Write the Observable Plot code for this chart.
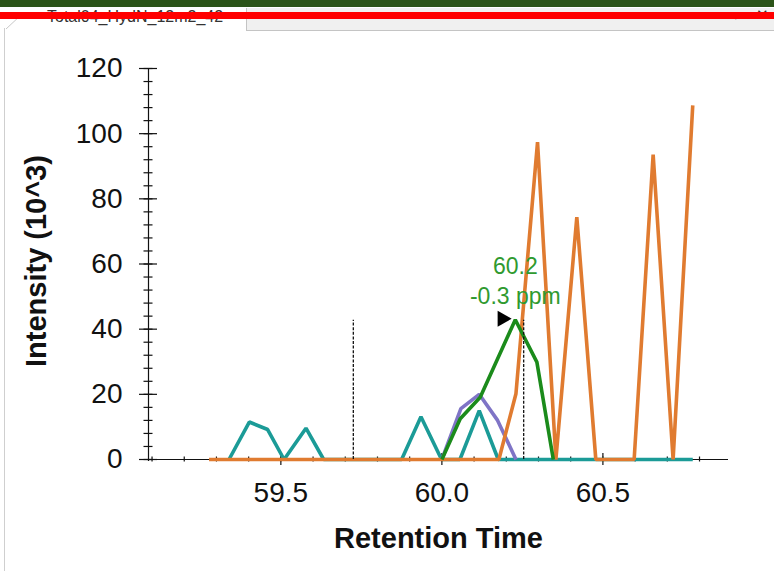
<!DOCTYPE html>
<html>
<head>
<meta charset="utf-8">
<script src="https://cdn.jsdelivr.net/npm/d3@7"></script>
<script src="https://cdn.jsdelivr.net/npm/@observablehq/plot@0.6"></script>
<style>
  html, body { margin: 0; padding: 0; background: #fff; }
  #page { position: relative; width: 774px; height: 571px; overflow: hidden; background: #fff; font-family: "Liberation Sans", Arial, sans-serif; }
  #hdr { position: relative; width: 774px; height: 32px; overflow: hidden; background: #fff; }
  .abs { position: absolute; }
</style>
</head>
<body>
<div id="page">
  <div id="hdr">
    <div class="abs" style="left:246px;top:8px;width:528px;height:22px;background:#f0f0f0;border-left:1px solid #c4c4c4;border-bottom:1px solid #c4c4c4;"></div>
    <div class="abs" style="left:47px;top:7px;font-size:16px;line-height:20px;color:#333;white-space:nowrap;">Total04_HydN_12m2_42</div>
    <div class="abs" style="left:690px;top:5px;font-size:15px;line-height:20px;color:#333;white-space:nowrap;letter-spacing:6px;">‹ › ▾ ✕</div>
    <svg class="abs" style="left:0;top:0" width="40" height="32"><line x1="6" y1="29" x2="21" y2="15" stroke="#c8c8c8" stroke-width="1"/></svg>
    <div class="abs" style="left:0;top:0;width:774px;height:7px;background:#2b5418;"></div>
    <div class="abs" style="left:0;top:12px;width:774px;height:7px;background:#ff0000;"></div>
  </div>
  <div id="chart"></div>
  <div class="abs" style="left:4px;top:28px;width:1px;height:543px;background:#cfcfcf;"></div>
</div>
<script>
// ---- data ----
const tealTime      = [59.339, 59.402, 59.459, 59.510, 59.578, 59.633, 59.875, 59.935, 59.999, 60.056, 60.116, 60.175, 60.779];
const tealIntensity = [0, 11.5, 9.2, 0, 9.6, 0, 0, 13.1, 0, 0, 15.0, 0, 0];

const purpleTime      = [60.000, 60.059, 60.116, 60.173, 60.230];
const purpleIntensity = [0, 15.6, 20.0, 12.0, 0];

const greenTime      = [60.000, 60.057, 60.119, 60.228, 60.295, 60.346];
const greenIntensity = [0, 12.5, 19.1, 42.9, 29.9, 0];

const orangeTime      = [59.277, 60.177, 60.230, 60.297, 60.354, 60.419, 60.478, 60.597, 60.656, 60.718, 60.779];
const orangeIntensity = [0, 0, 20.2, 97.4, 0, 74.4, 0, 0, 93.6, 0, 108.7];

const boundaryTime = [59.725, 60.254];
const boundaryTop  = [42.7, 42.7];

const apexTime = [60.228];
const apexIntensity = [42.9];
const apexLabel = ["60.2", "-0.3 ppm"];

const xMajorTicks = [59.5, 60.0, 60.5];
const xMinorTicks = [59.1, 59.2, 59.3, 59.4, 59.5, 59.6, 59.7, 59.8, 59.9, 60.0, 60.1, 60.2, 60.3, 60.4, 60.5, 60.6, 60.7, 60.8];
const yMajorTicks = [0, 20, 40, 60, 80, 100, 120];
const yMinorTicks = [0, 4, 8, 12, 16, 20, 24, 28, 32, 36, 40, 44, 48, 52, 56, 60, 64, 68, 72, 76, 80, 84, 88, 92, 96, 100, 104, 108, 112, 116, 120];

const xDomain = [59.089, 60.89];
const yDomain = [0, 120];
const xTitle = "Retention Time";
const yTitle = "Intensity (10^3)";

const colors = { teal: "#1b9b97", purple: "#7f74c6", green: "#1b8b1b", orange: "#e07b30", label: "#2f9a2f" };

// ---- build tables ----
const toRows = (ts, vs) => ts.map((t, i) => ({ t, v: vs[i] }));
const teal = toRows(tealTime, tealIntensity);
const purple = toRows(purpleTime, purpleIntensity);
const green = toRows(greenTime, greenIntensity);
const orange = toRows(orangeTime, orangeIntensity);
const bounds = toRows(boundaryTime, boundaryTop);
const apex = toRows(apexTime, apexIntensity);

const W = 774, H = 539;
const mL = 148, mR = 46, mT = 36, mB = 112;
const pW = W - mL - mR, pH = H - mT - mB;

const lineOpts = { x: "t", y: "v", strokeWidth: 3.6, strokeLinejoin: "miter", strokeLinecap: "butt" };

const chart = Plot.plot({
  width: W, height: H,
  marginLeft: mL, marginRight: mR, marginTop: mT, marginBottom: mB,
  style: { fontFamily: "'Liberation Sans', Arial, sans-serif", background: "transparent", color: "#111" },
  x: { domain: xDomain, type: "linear" },
  y: { domain: yDomain, type: "linear" },
  marks: [
    // axis lines
    Plot.ruleY([0], { stroke: "#111", strokeWidth: 1.2 }),
    Plot.ruleX([xDomain[0]], { stroke: "#111", strokeWidth: 1.2, insetBottom: -2 }),
    // ticks crossing the axis
    Plot.tickY(yMinorTicks, { y: d => d, insetRight: pW - 9, dx: -4.5, stroke: "#111", strokeWidth: 1.2 }),
    Plot.tickY(yMajorTicks, { y: d => d, insetRight: pW - 18, dx: -9, stroke: "#111", strokeWidth: 1.2 }),
    Plot.tickX(xMinorTicks, { x: d => d, insetTop: pH - 5, dy: 2.5, stroke: "#111", strokeWidth: 1.2 }),
    Plot.tickX(xMajorTicks, { x: d => d, insetTop: pH - 12, dy: 6, stroke: "#111", strokeWidth: 1.2 }),
    // tick labels
    Plot.axisY({ ticks: yMajorTicks, tickSize: 0, tickPadding: 26, fontSize: 28, label: null, fill: "#111" }),
    Plot.axisX({ ticks: xMajorTicks, tickSize: 0, tickPadding: 23, fontSize: 28, label: null, fill: "#111", tickFormat: d => d.toFixed(1) }),
    // titles
    Plot.text([yTitle], { text: d => d, frameAnchor: "left", textAnchor: "middle", lineAnchor: "middle", dx: -112, dy: -3, rotate: -90, fontSize: 29, fontWeight: "bold", fill: "#111" }),
    Plot.text([xTitle], { text: d => d, frameAnchor: "bottom", textAnchor: "middle", lineAnchor: "middle", dy: 79, fontSize: 29, fontWeight: "bold", fill: "#111" }),
    // traces
    Plot.line(teal, { ...lineOpts, stroke: colors.teal }),
    Plot.line(purple, { ...lineOpts, stroke: colors.purple }),
    Plot.line(orange, { ...lineOpts, stroke: colors.orange }),
    Plot.line(green, { ...lineOpts, stroke: colors.green }),
    // integration boundaries
    Plot.ruleX(bounds, { x: "t", y1: 0, y2: "v", stroke: "#111", strokeWidth: 1.3, strokeDasharray: "3,1.6" }),
    // apex marker
    Plot.dot(apex, { x: "t", y: "v", symbol: "triangle", r: 6, fill: "#000", stroke: "none", rotate: 90, dx: -13, dy: -1 }),
    // apex label
    Plot.text(apex, { x: "t", y: "v", text: () => apexLabel.join("\n"), lineAnchor: "bottom", lineHeight: 1.3, dy: -16, fontSize: 23, fill: colors.label, ariaLabel: "annotation" })
  ]
});

document.getElementById("chart").appendChild(chart);

// white translucent box behind the apex label
const g = chart.querySelector('g[aria-label="annotation"]');
if (g) {
  const bb = g.getBBox();
  const ns = "http://www.w3.org/2000/svg";
  const r = document.createElementNS(ns, "rect");
  const t = g.getAttribute("transform");
  r.setAttribute("x", bb.x - 3);
  r.setAttribute("y", bb.y - 1);
  r.setAttribute("width", bb.width + 6);
  r.setAttribute("height", bb.height + 2);
  r.setAttribute("fill", "#fff");
  r.setAttribute("fill-opacity", "0.8");
  if (t) r.setAttribute("transform", t);
  g.parentNode.insertBefore(r, g);
}
</script>
</body>
</html>
